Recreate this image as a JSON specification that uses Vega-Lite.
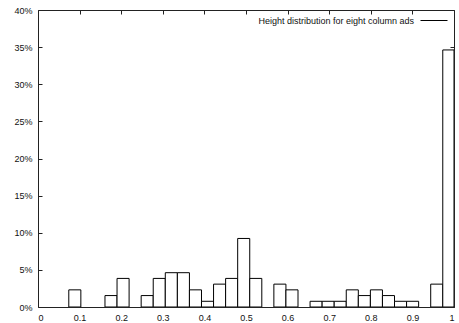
{
  "$schema": "https://vega.github.io/schema/vega-lite/v6.json",
  "width": 416,
  "height": 297,
  "autosize": {"type": "none"},
  "padding": {"left": 38, "top": 10, "right": 5, "bottom": 16},
  "config": {
    "view": {"stroke": "#222", "strokeWidth": 1},
    "font": "Liberation Sans",
    "axis": {"grid": false, "domain": false, "tickColor": "#222", "tickSize": -4, "labelFontSize": 9, "labelColor": "#111", "labelFont": "Liberation Sans", "title": null}
  },
  "data": {
    "values": [
      {"x0": 0.074, "x1": 0.103, "pct": 2.31, "series": "Height distribution for eight column ads"},
      {"x0": 0.161, "x1": 0.190, "pct": 1.54, "series": "Height distribution for eight column ads"},
      {"x0": 0.190, "x1": 0.219, "pct": 3.85, "series": "Height distribution for eight column ads"},
      {"x0": 0.248, "x1": 0.277, "pct": 1.54, "series": "Height distribution for eight column ads"},
      {"x0": 0.277, "x1": 0.306, "pct": 3.85, "series": "Height distribution for eight column ads"},
      {"x0": 0.306, "x1": 0.335, "pct": 4.62, "series": "Height distribution for eight column ads"},
      {"x0": 0.335, "x1": 0.364, "pct": 4.62, "series": "Height distribution for eight column ads"},
      {"x0": 0.364, "x1": 0.393, "pct": 2.31, "series": "Height distribution for eight column ads"},
      {"x0": 0.393, "x1": 0.422, "pct": 0.77, "series": "Height distribution for eight column ads"},
      {"x0": 0.422, "x1": 0.451, "pct": 3.08, "series": "Height distribution for eight column ads"},
      {"x0": 0.451, "x1": 0.480, "pct": 3.85, "series": "Height distribution for eight column ads"},
      {"x0": 0.480, "x1": 0.509, "pct": 9.23, "series": "Height distribution for eight column ads"},
      {"x0": 0.509, "x1": 0.538, "pct": 3.85, "series": "Height distribution for eight column ads"},
      {"x0": 0.567, "x1": 0.596, "pct": 3.08, "series": "Height distribution for eight column ads"},
      {"x0": 0.596, "x1": 0.625, "pct": 2.31, "series": "Height distribution for eight column ads"},
      {"x0": 0.654, "x1": 0.683, "pct": 0.77, "series": "Height distribution for eight column ads"},
      {"x0": 0.683, "x1": 0.712, "pct": 0.77, "series": "Height distribution for eight column ads"},
      {"x0": 0.712, "x1": 0.741, "pct": 0.77, "series": "Height distribution for eight column ads"},
      {"x0": 0.741, "x1": 0.770, "pct": 2.31, "series": "Height distribution for eight column ads"},
      {"x0": 0.770, "x1": 0.799, "pct": 1.54, "series": "Height distribution for eight column ads"},
      {"x0": 0.799, "x1": 0.828, "pct": 2.31, "series": "Height distribution for eight column ads"},
      {"x0": 0.828, "x1": 0.857, "pct": 1.54, "series": "Height distribution for eight column ads"},
      {"x0": 0.857, "x1": 0.886, "pct": 0.77, "series": "Height distribution for eight column ads"},
      {"x0": 0.886, "x1": 0.915, "pct": 0.77, "series": "Height distribution for eight column ads"},
      {"x0": 0.944, "x1": 0.973, "pct": 3.08, "series": "Height distribution for eight column ads"},
      {"x0": 0.973, "x1": 1.0, "pct": 34.62, "series": "Height distribution for eight column ads"}
    ]
  },
  "layer": [
    {
      "mark": {"type": "rect", "fill": "white", "strokeWidth": 1, "clip": true},
      "encoding": {
        "x": {"field": "x0", "type": "quantitative", "scale": {"domain": [0, 1], "nice": false, "zero": false},
              "axis": {"orient": "bottom", "values": [0, 0.1, 0.2, 0.3, 0.4, 0.5, 0.6, 0.7, 0.8, 0.9, 1], "format": "~g", "labelPadding": 10}},
        "x2": {"field": "x1"},
        "y": {"field": "pct", "type": "quantitative", "scale": {"domain": [0, 40], "nice": false},
              "axis": {"orient": "left", "values": [0, 5, 10, 15, 20, 25, 30, 35, 40], "labelExpr": "datum.value + '%'", "labelPadding": 10}},
        "y2": {"datum": 0},
        "stroke": {"field": "series", "type": "nominal", "scale": {"range": ["black"]},
                   "legend": {"title": null, "orient": "none", "legendX": 382, "legendY": -3.5, "padding": 0, "symbolType": "stroke", "symbolSize": 729, "symbolStrokeWidth": 1, "labelFontSize": 9, "labelColor": "#111", "labelLimit": 400, "labelAlign": "right", "labelOffset": -34}}
      }
    },
    {
      "mark": {"type": "rect", "opacity": 0},
      "encoding": {
        "x": {"field": "x0", "type": "quantitative", "scale": {"domain": [0, 1], "nice": false, "zero": false},
              "axis": {"orient": "top", "values": [0, 0.1, 0.2, 0.3, 0.4, 0.5, 0.6, 0.7, 0.8, 0.9, 1], "labels": false}},
        "x2": {"field": "x1"},
        "y": {"field": "pct", "type": "quantitative", "scale": {"domain": [0, 40], "nice": false},
              "axis": {"orient": "right", "values": [0, 5, 10, 15, 20, 25, 30, 35, 40], "labels": false}},
        "y2": {"datum": 0}
      }
    }
  ],
  "resolve": {"axis": {"x": "independent", "y": "independent"}}
}
